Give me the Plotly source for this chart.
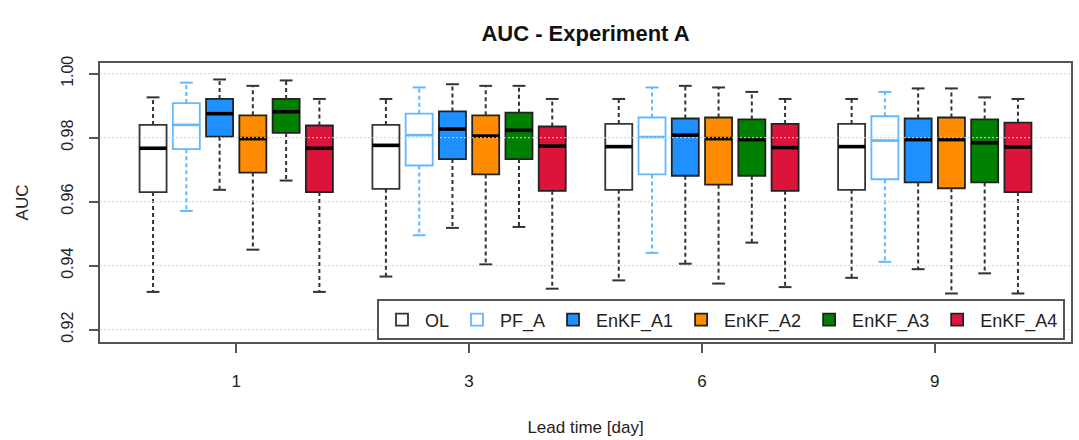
import plotly.graph_objects as go

# Lead times shown on the x axis
lead_times = ["1", "3", "6", "9"]

# Experiment members
series_names = ["OL", "PF_A", "EnKF_A1", "EnKF_A2", "EnKF_A3", "EnKF_A4"]
fill_colors = ["#FFFFFF", "#FFFFFF", "#1E90FF", "#FF8C00", "#008000", "#DC143C"]
edge_colors = ["#333333", "#63B8FF", "#222222", "#222222", "#222222", "#222222"]
median_colors = ["#000000", "#63B8FF", "#000000", "#000000", "#000000", "#000000"]
whisker_colors = ["#333333", "#63B8FF", "#333333", "#333333", "#333333", "#333333"]

# Box statistics per member (rows) and lead time (columns)
whisker_high = [
    [0.9926, 0.9921, 0.9921, 0.9921],
    [0.9972, 0.9957, 0.9957, 0.9943],
    [0.9982, 0.9967, 0.9962, 0.9954],
    [0.9962, 0.9962, 0.9957, 0.9954],
    [0.9979, 0.9962, 0.9943, 0.9926],
    [0.9921, 0.9921, 0.9921, 0.9921],
]
upper_quartile = [
    [0.9840, 0.9840, 0.9843, 0.9843],
    [0.9908, 0.9875, 0.9863, 0.9867],
    [0.9921, 0.9882, 0.9860, 0.9860],
    [0.9870, 0.9870, 0.9863, 0.9863],
    [0.9921, 0.9878, 0.9857, 0.9857],
    [0.9838, 0.9835, 0.9843, 0.9847],
]
medians = [
    [0.9767, 0.9776, 0.9772, 0.9772],
    [0.9840, 0.9808, 0.9802, 0.9791],
    [0.9875, 0.9827, 0.9808, 0.9794],
    [0.9797, 0.9805, 0.9797, 0.9794],
    [0.9881, 0.9823, 0.9794, 0.9784],
    [0.9767, 0.9774, 0.9769, 0.9771],
]
lower_quartile = [
    [0.9630, 0.9640, 0.9637, 0.9637],
    [0.9764, 0.9713, 0.9685, 0.9670],
    [0.9803, 0.9733, 0.9681, 0.9660],
    [0.9691, 0.9685, 0.9653, 0.9642],
    [0.9815, 0.9733, 0.9681, 0.9660],
    [0.9630, 0.9634, 0.9634, 0.9630],
]
whisker_low = [
    [0.9318, 0.9366, 0.9354, 0.9362],
    [0.9571, 0.9495, 0.9440, 0.9412],
    [0.9637, 0.9518, 0.9406, 0.9389],
    [0.9450, 0.9404, 0.9344, 0.9313],
    [0.9666, 0.9521, 0.9472, 0.9376],
    [0.9318, 0.9328, 0.9333, 0.9313],
]

y_ticks = [0.92, 0.94, 0.96, 0.98, 1.00]

FONT = "Liberation Sans, Arial, sans-serif"
BOX_W = 0.116      # box width in group units
CAP_W = 0.055      # whisker staple width
SLOT = 1.0 / 7.0   # six boxes plus one gap per lead time

fig = go.Figure()

for k, name in enumerate(series_names):
    offset = (k - 2.5) * SLOT
    xs = [g + offset for g in range(len(lead_times))]

    # dashed whiskers from box edges to the extremes
    wx, wy = [], []
    for i, x in enumerate(xs):
        wx += [x, x, None, x, x, None]
        wy += [upper_quartile[k][i], whisker_high[k][i], None,
               lower_quartile[k][i], whisker_low[k][i], None]
    fig.add_trace(go.Scatter(
        x=wx, y=wy, mode="lines", showlegend=False, hoverinfo="skip",
        legendgroup=name,
        line=dict(color=whisker_colors[k], width=2, dash="4px,3px"),
    ))

    # whisker staples
    cx, cy = [], []
    for i, x in enumerate(xs):
        for v in (whisker_high[k][i], whisker_low[k][i]):
            cx += [x - CAP_W / 2, x + CAP_W / 2, None]
            cy += [v, v, None]
    fig.add_trace(go.Scatter(
        x=cx, y=cy, mode="lines", showlegend=False, hoverinfo="skip",
        legendgroup=name,
        line=dict(color=whisker_colors[k], width=2),
    ))

    # boxes
    fig.add_trace(go.Box(
        name=name, x=xs, legendgroup=name,
        q1=lower_quartile[k], median=medians[k], q3=upper_quartile[k],
        lowerfence=lower_quartile[k], upperfence=upper_quartile[k],
        width=BOX_W, fillcolor=fill_colors[k],
        line=dict(color=edge_colors[k], width=1.8),
        whiskerwidth=0, boxpoints=False,
    ))

    # heavy median bars
    mx, my = [], []
    for i, x in enumerate(xs):
        mx += [x - BOX_W / 2, x + BOX_W / 2, None]
        my += [medians[k][i], medians[k][i], None]
    fig.add_trace(go.Scatter(
        x=mx, y=my, mode="lines", showlegend=False, hoverinfo="skip",
        legendgroup=name,
        line=dict(color=median_colors[k], width=3.6 if k != 1 else 2.6),
    ))

# dotted horizontal grid drawn over the boxes
shapes = [
    dict(type="line", xref="paper", x0=0, x1=1, yref="y", y0=v, y1=v,
         layer="above", line=dict(color="#D3D3D3", width=1, dash="2px,2px"))
    for v in y_ticks
]

fig.update_layout(
    width=1079, height=440,
    margin=dict(l=100, r=6, t=63, b=90),
    paper_bgcolor="white", plot_bgcolor="white",
    font=dict(family=FONT, color="#222222"),
    title=dict(text="<b>AUC - Experiment A</b>", x=0.5, xref="paper",
               y=1 - 33 / 440, yref="container", yanchor="middle", xanchor="center",
               font=dict(size=22, color="#111111")),
    boxmode="overlay",
    shapes=shapes,
    showlegend=True,
    legend=dict(
        orientation="h", x=0.9938, xanchor="right", y=0.006, yanchor="bottom",
        bgcolor="white", bordercolor="#555555", borderwidth=2,
        font=dict(size=18, color="#222222"), itemwidth=36,
        traceorder="normal",
    ),
    xaxis=dict(
        range=[-0.585, 3.585],
        tickmode="array", tickvals=list(range(len(lead_times))), ticktext=lead_times,
        ticks="outside", ticklen=9, tickwidth=1.5, tickcolor="#555555",
        showgrid=False, zeroline=False,
        showline=True, mirror=True, linecolor="#555555", linewidth=2,
        tickfont=dict(size=17, color="#222222"), ticklabelstandoff=14,
        title=dict(text="Lead time [day]", font=dict(size=17, color="#222222"), standoff=31),
    ),
    yaxis=dict(
        range=[0.91614, 1.00334],
        tickmode="array", tickvals=y_ticks, ticktext=[f"{v:.2f}" for v in y_ticks],
        tickangle=-90,
        ticks="outside", ticklen=9, tickwidth=1.5, tickcolor="#555555",
        showgrid=False, zeroline=False,
        showline=True, mirror=True, linecolor="#555555", linewidth=2,
        tickfont=dict(size=16, color="#222222"), ticklabelstandoff=10,
        title=dict(text="AUC", font=dict(size=17, color="#222222"), standoff=26),
    ),
)

fig.write_html("out.html")
